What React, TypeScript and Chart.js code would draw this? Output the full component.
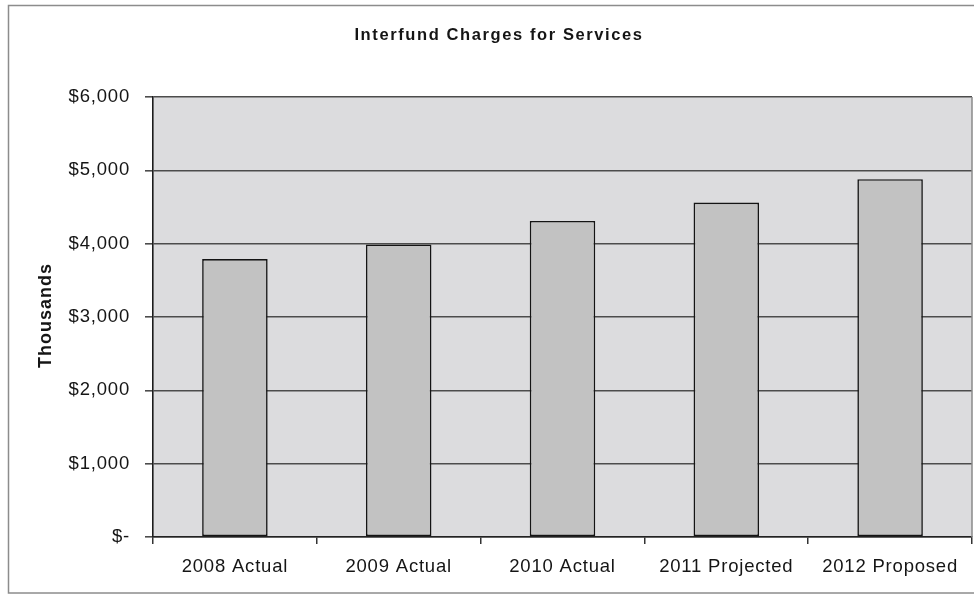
import React, { useEffect, useRef } from "react";
import { Chart, registerables } from "chart.js";

Chart.register(...registerables);

// Interfund charges (in thousands of dollars) by fiscal year
const categories = ["2008 Actual", "2009 Actual", "2010 Actual", "2011 Projected", "2012 Proposed"];
const charges = [3790, 3990, 4310, 4560, 4880];
const yMin = 0;
const yMax = 6000;
const yStep = 1000;
const chartTitle = "Interfund Charges for Services";
const yAxisTitle = "Thousands";

const W = 974;
const H = 598;
const FONT = "'Liberation Sans', Arial, sans-serif";
const TEXT = "#151515";

const formatDollars = (v: number) => (v === 0 ? "$-" : "$" + v.toLocaleString("en-US"));

const framePlugin = {
  id: "frame",
  beforeDraw(chart: any) {
    const { ctx, chartArea } = chart;
    ctx.save();
    ctx.fillStyle = "#ffffff";
    ctx.fillRect(0, 0, W, H);
    ctx.fillStyle = "#dcdcde";
    ctx.fillRect(chartArea.left, chartArea.top, chartArea.right - chartArea.left, chartArea.bottom - chartArea.top);
    ctx.restore();
    ctx.letterSpacing = "0.8px";
  },
  afterDraw(chart: any) {
    const { ctx, chartArea } = chart;
    ctx.save();
    // plot area right edge
    ctx.strokeStyle = "#8a8a8a";
    ctx.lineWidth = 1.5;
    ctx.beginPath();
    ctx.moveTo(chartArea.right, chartArea.top);
    ctx.lineTo(chartArea.right, chartArea.bottom);
    ctx.stroke();
    // outer chart border
    ctx.strokeStyle = "#8c8c8c";
    ctx.lineWidth = 1.5;
    ctx.strokeRect(8.5, 5.5, W + 20, 587.5);
    // title
    ctx.fillStyle = TEXT;
    ctx.font = `bold 16.5px ${FONT}`;
    ctx.letterSpacing = "1.6px";
    ctx.textAlign = "center";
    ctx.textBaseline = "alphabetic";
    ctx.fillText(chartTitle, 499, 40);
    // y axis title
    ctx.font = `bold 18px ${FONT}`;
    ctx.letterSpacing = "1px";
    ctx.translate(51, 315.5);
    ctx.rotate(-Math.PI / 2);
    ctx.fillText(yAxisTitle, 0, 0);
    ctx.restore();
  },
};

export default function App() {
  const ref = useRef<HTMLCanvasElement | null>(null);

  useEffect(() => {
    if (!ref.current) return;
    const chart = new Chart(ref.current, {
      type: "bar",
      data: {
        labels: categories,
        datasets: [
          {
            data: charges,
            backgroundColor: "#c2c2c2",
            borderColor: "#141414",
            borderWidth: 1.6,
            borderSkipped: false,
            categoryPercentage: 1,
            barPercentage: 0.4,
          },
        ],
      },
      options: {
        animation: false,
        responsive: false,
        devicePixelRatio: 1,
        layout: { padding: { left: 0, top: 97, right: 2, bottom: 0 } },
        plugins: {
          legend: { display: false },
          title: { display: false },
          tooltip: { enabled: false },
        },
        scales: {
          x: {
            afterFit: (s: any) => {
              s.height = 61;
            },
            grid: {
              display: true,
              offset: true,
              drawOnChartArea: false,
              drawTicks: true,
              tickLength: 7,
              color: "#333333",
              lineWidth: 1.5,
            },
            border: { display: true, color: "#222222", width: 1.6 },
            ticks: {
              color: TEXT,
              font: { family: FONT, size: 18.5 },
              padding: 12,
              maxRotation: 0,
              autoSkip: false,
            },
          },
          y: {
            min: yMin,
            max: yMax,
            afterFit: (s: any) => {
              s.width = 153;
            },
            grid: {
              color: "#4c4c4c",
              lineWidth: 1.6,
              drawTicks: true,
              tickLength: 8,
            },
            border: { display: true, color: "#1c1c1c", width: 1.6 },
            ticks: {
              stepSize: yStep,
              color: TEXT,
              font: { family: FONT, size: 18.5 },
              padding: 15,
              callback: (v: any) => formatDollars(Number(v)),
            },
          },
        },
      },
      plugins: [framePlugin],
    });
    return () => chart.destroy();
  }, []);

  return (
    <div style={{ position: "fixed", left: 0, top: 0, width: W, height: H, background: "#fff" }}>
      <canvas ref={ref} width={W} height={H} style={{ display: "block", width: W, height: H }} />
    </div>
  );
}
